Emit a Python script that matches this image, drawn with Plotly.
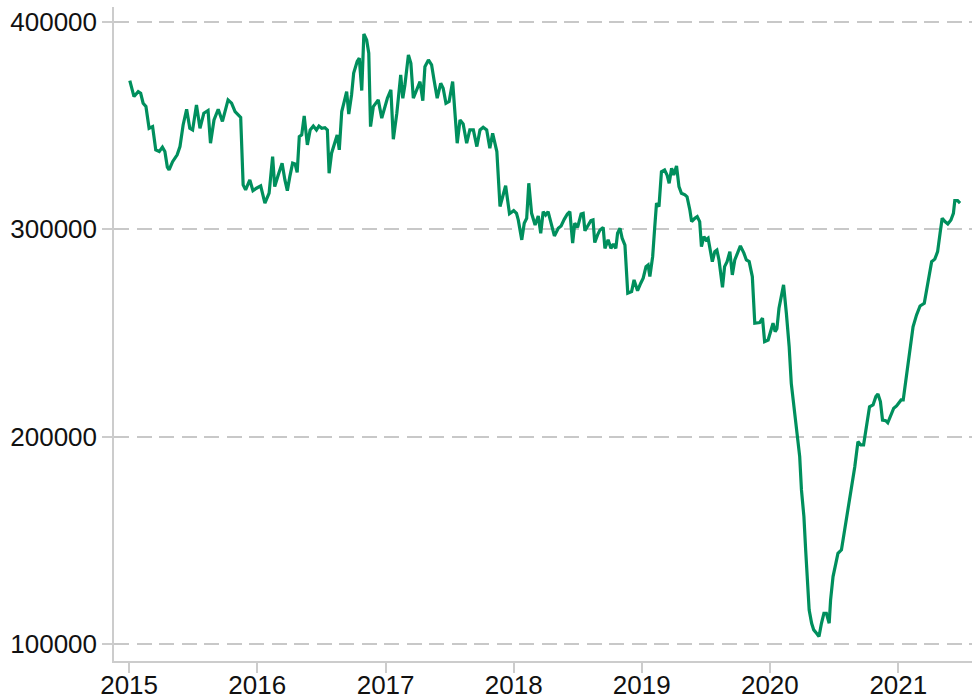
import plotly.graph_objects as go

dates_2015 = ["2015-01-03","2015-01-15","2015-01-27","2015-02-03","2015-02-10","2015-02-18","2015-02-27","2015-03-09",
              "2015-03-18","2015-03-28","2015-04-06","2015-04-13","2015-04-20","2015-04-25","2015-05-05","2015-05-18",
              "2015-05-26","2015-06-04","2015-06-14","2015-06-23","2015-07-01","2015-07-12","2015-07-22","2015-08-02",
              "2015-08-14","2015-08-21","2015-08-31","2015-09-12","2015-09-24","2015-10-10","2015-10-20","2015-10-30",
              "2015-11-08","2015-11-15","2015-11-22","2015-11-29","2015-12-11","2015-12-20","2015-12-30"]
vals_2015 = [371700,364000,366400,365600,360800,359200,348700,349500,
             338300,337500,339600,337500,330000,328600,332600,335900,
             339900,350300,357900,348700,347900,360000,348700,356000,
             357300,341500,352700,357900,352000,362400,360800,356800,
             355200,354000,321400,319000,323800,318600,319800]

dates_2016 = ["2016-01-11","2016-01-23","2016-02-04","2016-02-14","2016-02-20","2016-03-01","2016-03-12","2016-03-20",
              "2016-03-27","2016-04-03","2016-04-11","2016-04-18","2016-04-24","2016-04-30","2016-05-07","2016-05-14",
              "2016-05-23","2016-05-31","2016-06-09","2016-06-18","2016-06-25","2016-07-03","2016-07-12","2016-07-19",
              "2016-07-24","2016-07-31","2016-08-10","2016-08-16","2016-08-22","2016-08-29","2016-09-04","2016-09-12",
              "2016-09-18","2016-09-26","2016-10-02","2016-10-12","2016-10-18","2016-10-25","2016-10-31","2016-11-08",
              "2016-11-14","2016-11-19","2016-11-27","2016-12-11","2016-12-21","2016-12-30"]
vals_2016 = [320900,312600,317400,335000,320600,326200,331900,323800,
             318600,325400,331900,331500,327400,344700,345500,354700,
             340700,347900,349800,347900,349800,348700,349000,347900,
             327000,336700,341500,345500,338300,356800,360800,366400,
             355600,364800,375300,380900,382500,366900,394200,391300,
             384900,349500,359200,362400,353600,359200]

dates_2017 = ["2017-01-06","2017-01-16","2017-01-23","2017-02-02","2017-02-13","2017-02-19","2017-02-25","2017-03-07",
              "2017-03-14","2017-03-21","2017-03-31","2017-04-09","2017-04-17","2017-04-23","2017-05-03","2017-05-12",
              "2017-05-19","2017-05-28","2017-06-07","2017-06-14","2017-06-22","2017-07-01","2017-07-11","2017-07-18",
              "2017-07-24","2017-08-01","2017-08-10","2017-08-20","2017-08-29","2017-09-08","2017-09-18","2017-09-27",
              "2017-10-06","2017-10-16","2017-10-25","2017-11-02","2017-11-14","2017-11-23","2017-12-02","2017-12-09",
              "2017-12-20"]
vals_2017 = [363200,367200,343400,356000,374400,363200,369600,384100,
             380100,363200,367200,371200,362000,378400,381700,379300,
             372000,363200,370400,368000,360800,361600,371200,352700,
             341500,352700,350800,341500,347900,347900,339900,347900,
             349200,347900,339100,346300,337500,311000,317000,321000,
             307500]

dates_2018 = ["2018-01-01","2018-01-09","2018-01-14","2018-01-24","2018-01-31","2018-02-07","2018-02-13","2018-02-21",
              "2018-03-03","2018-03-12","2018-03-19","2018-03-26","2018-04-02","2018-04-09","2018-04-17","2018-04-27",
              "2018-05-08","2018-05-16","2018-05-25","2018-06-03","2018-06-10","2018-06-18","2018-06-24","2018-07-02",
              "2018-07-12","2018-07-18","2018-07-23","2018-08-01","2018-08-09","2018-08-15","2018-08-20","2018-08-28",
              "2018-09-04","2018-09-13","2018-09-18","2018-09-27","2018-10-05","2018-10-12","2018-10-19","2018-10-24",
              "2018-10-31","2018-11-06","2018-11-14","2018-11-22","2018-12-03","2018-12-10","2018-12-20","2018-12-29"]
vals_2018 = [309000,307700,304500,294900,302900,305300,322200,307700,
             302100,306400,298100,308500,306900,308500,302900,296800,
             300500,301600,304800,307400,308500,293300,302900,300900,
             307400,307700,299300,301600,304200,304500,293600,297300,
             299700,300900,290800,294900,290800,292900,290800,298100,
             300500,295700,292400,269200,270000,275600,270400,274000]

dates_2019 = ["2019-01-05","2019-01-13","2019-01-19","2019-01-24","2019-02-01","2019-02-07","2019-02-12","2019-02-19",
              "2019-02-26","2019-03-07","2019-03-14","2019-03-20","2019-03-27","2019-04-02","2019-04-10","2019-04-17",
              "2019-04-24","2019-05-04","2019-05-10","2019-05-18","2019-05-23","2019-06-01","2019-06-08","2019-06-15",
              "2019-06-20","2019-06-27","2019-07-03","2019-07-09","2019-07-14","2019-07-21","2019-07-28","2019-08-03",
              "2019-08-09","2019-08-19","2019-08-25","2019-09-01","2019-09-09","2019-09-16","2019-09-23","2019-10-01",
              "2019-10-09","2019-10-19","2019-10-26","2019-11-03","2019-11-12","2019-11-19","2019-11-28","2019-12-03",
              "2019-12-11","2019-12-17","2019-12-27"]
vals_2019 = [276400,282000,282800,277200,286800,301300,312600,310900,
             327800,328600,326200,322200,329400,326200,330500,320600,
             317400,316600,315700,309300,303700,305300,306100,303700,
             291600,296500,294900,295700,291600,284400,289200,290000,
             285200,272000,282000,284400,289200,278000,285200,289200,
             292000,288500,285200,284400,277200,254700,254700,255000,
             257100,245800,246600]

dates_2020 = ["2020-01-03","2020-01-10","2020-01-16","2020-01-21","2020-01-27","2020-02-03","2020-02-09","2020-02-17",
              "2020-02-25","2020-03-02","2020-03-12","2020-03-19","2020-03-26","2020-03-31","2020-04-07","2020-04-12",
              "2020-04-17","2020-04-22","2020-04-29","2020-05-05","2020-05-13","2020-05-20","2020-05-27","2020-06-03",
              "2020-06-10","2020-06-18","2020-06-22","2020-06-29","2020-07-07","2020-07-13","2020-07-23","2020-08-01",
              "2020-08-11","2020-08-20","2020-08-30","2020-09-08","2020-09-16","2020-09-24","2020-10-02","2020-10-11",
              "2020-10-21","2020-10-29","2020-11-04","2020-11-11","2020-11-17","2020-11-26","2020-12-02","2020-12-12",
              "2020-12-19","2020-12-27"]
vals_2020 = [250600,254700,250600,252000,261900,267500,273200,259500,
             243400,225700,209600,198400,190400,174300,161400,145400,
             129300,116400,110000,106800,105200,103600,110000,114800,
             114800,110000,121200,132500,138900,143700,145400,155000,
             164600,174300,185500,197600,196000,196000,204800,214400,
             215300,219300,220600,216900,208000,207700,206700,211300,
             213700,214800]

dates_2021 = ["2021-01-04","2021-01-09","2021-01-15","2021-01-25","2021-02-03","2021-02-12","2021-02-22","2021-03-04",
              "2021-03-16","2021-03-23","2021-03-29","2021-04-06","2021-04-15","2021-04-23","2021-04-30","2021-05-06",
              "2021-05-14","2021-05-22","2021-05-31","2021-06-07","2021-06-11","2021-06-19","2021-06-26"]
vals_2021 = [216900,217700,217700,230600,243400,253000,258700,263000,
             264300,270700,277200,284400,285600,289200,298100,305300,
             303700,302600,304500,307700,313800,313800,312600]

dates = dates_2015 + dates_2016 + dates_2017 + dates_2018 + dates_2019 + dates_2020 + dates_2021
values = vals_2015 + vals_2016 + vals_2017 + vals_2018 + vals_2019 + vals_2020 + vals_2021

y_ticks = [100000, 200000, 300000, 400000]
y_tick_labels = ["100000", "200000", "300000", "400000"]

fig = go.Figure()
fig.add_trace(go.Scatter(x=dates, y=values, mode="lines",
                         line=dict(color="#008f5d", width=3.2), showlegend=False))

axis_gray = "#cccccc"
fig.update_layout(
    width=974, height=700,
    margin=dict(l=114, r=2, t=7, b=39),
    paper_bgcolor="white", plot_bgcolor="white",
    font=dict(family="Liberation Sans, Arial, sans-serif", size=26, color="#111111"),
    xaxis=dict(type="date", range=["2014-11-19", "2021-07-30"],
               tick0="2015-01-01", dtick="M12", tickformat="%Y",
               showgrid=False, zeroline=False,
               showline=True, linecolor=axis_gray, linewidth=1.5,
               ticks="outside", ticklen=10, tickwidth=1.5, tickcolor=axis_gray,
               ticklabelstandoff=-10,
               automargin=False),
    yaxis=dict(range=[91800, 407200], tickvals=y_ticks, ticktext=y_tick_labels,
               showgrid=True, gridcolor="#c8c8c8", gridwidth=2, griddash="15px,7.5px",
               zeroline=False,
               showline=True, linecolor=axis_gray, linewidth=1.5,
               ticks="outside", ticklen=10, tickwidth=1.5, tickcolor=axis_gray,
               automargin=False),
)

fig.write_html("out.html", config={"displayModeBar": False},
               post_script="document.body.style.margin='0px';document.body.style.padding='0px';document.body.style.overflow='hidden';")
